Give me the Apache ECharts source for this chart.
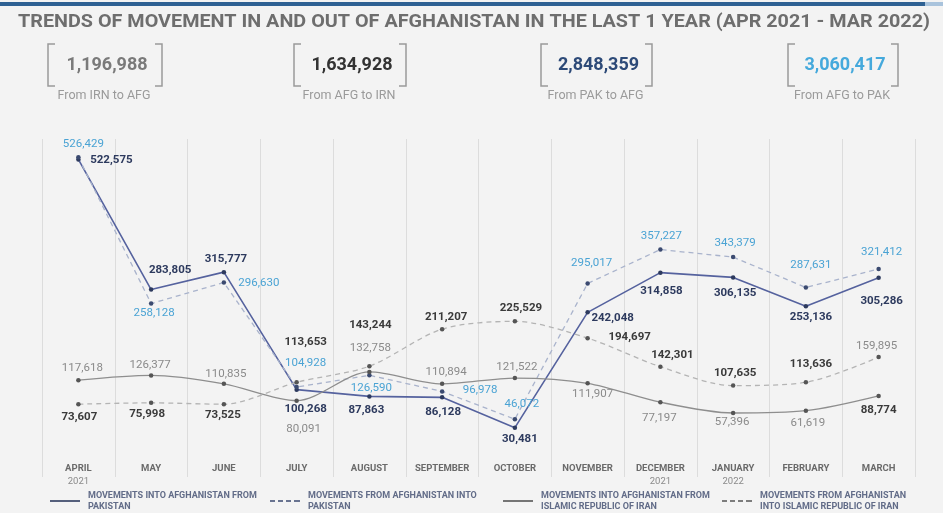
<!DOCTYPE html>
<html>
<head>
<meta charset="utf-8">
<script src="https://cdn.jsdelivr.net/npm/echarts@6/dist/echarts.min.js"></script>
<style>
html,body{margin:0;padding:0;background:#f3f3f3;}
#chart{width:943px;height:513px;}
</style>
</head>
<body>
<div id="chart"></div>
<script>
// ---------- DATA ----------
const months = ['APRIL','MAY','JUNE','JULY','AUGUST','SEPTEMBER','OCTOBER','NOVEMBER','DECEMBER','JANUARY','FEBRUARY','MARCH'];
const years = ['2021','','','','','','','','2021','2022','',''];
const intoAfgFromPak = [522575,283805,315777,100268,87863,86128,30481,242048,314858,306135,253136,305286];
const fromAfgToPak = [526429,258128,296630,104928,126590,96978,46072,295017,357227,343379,287631,321412];
const intoAfgFromIrn = [117618,126377,110835,80091,132758,110894,121522,111907,77197,57396,61619,88774];
const fromAfgToIrn = [73607,75998,73525,113653,143244,211207,225529,194697,142301,107635,113636,159895];
const totals = [1196988,1634928,2848359,3060417];
const totalLabels = ['From IRN to AFG','From AFG to IRN','From PAK to AFG','From AFG to PAK'];
const seriesNames = ['MOVEMENTS INTO AFGHANISTAN FROM PAKISTAN','MOVEMENTS FROM AFGHANISTAN INTO PAKISTAN','MOVEMENTS INTO AFGHANISTAN FROM ISLAMIC REPUBLIC OF IRAN','MOVEMENTS FROM AFGHANISTAN INTO ISLAMIC REPUBLIC OF IRAN'];
const legendText = ['MOVEMENTS INTO AFGHANISTAN FROM\nPAKISTAN','MOVEMENTS FROM AFGHANISTAN INTO\nPAKISTAN','MOVEMENTS INTO AFGHANISTAN FROM\nISLAMIC REPUBLIC OF IRAN','MOVEMENTS FROM AFGHANISTAN\nINTO ISLAMIC REPUBLIC OF IRAN'];
const title = 'TRENDS OF MOVEMENT IN AND OUT OF AFGHANISTAN IN THE LAST 1 YEAR (APR 2021 - MAR 2022)';

// ---------- LABEL PLACEMENT (styling) ----------
const off1 = [[33,1],[19,-19],[2,-13],[9,19],[-3,14],[1,15],[5,11],[25,6],[1,18],[2,16],[5,11],[3,23]];
const off2 = [[5,-13],[3,10],[35,1],[9,-24],[2,13],[38,-1],[7,-15],[4,-20],[1,-13],[2,-14],[5,-22],[3,-17]];
const off3 = [[4,-12],[-1,-10],[2,-10],[7,28],[1,-24],[4,-12],[2,-11],[5,11],[-1,16],[-1,9],[2,12],[0,14]];
const off4 = [[1,13],[-4,11],[-1,11],[9,-40],[1,-41],[4,-12],[6,-13],[42,-1],[12,-12],[2,-12],[5,-18],[-2,-11]];

const FONT = 'Roboto, "Noto Sans", sans-serif';
const fmt = v => Number(v).toLocaleString('en-US');

function mkData(vals, offs, overrides) {
  return vals.map((v, i) => {
    const lab = { offset: offs[i] };
    if (overrides && overrides[i]) Object.assign(lab, overrides[i]);
    return { value: v, label: lab };
  });
}

const darkLab = { color: '#3a3a3a', fontWeight: 'bold' };
const grayLab = { color: '#8a8a8a', fontWeight: 'normal' };

function lineSeries(name, vals, offs, lineColor, lineWidth, dashed, smooth, labColor, labWeight, symColor, overrides) {
  return {
    name: name,
    type: 'line',
    data: mkData(vals, offs, overrides),
    smooth: smooth,
    symbol: 'circle',
    symbolSize: 4.5,
    showAllSymbol: true,
    lineStyle: { color: lineColor, width: lineWidth, type: dashed ? [5, 4] : 'solid' },
    itemStyle: { color: symColor },
    label: {
      show: true,
      position: 'inside',
      align: 'center',
      verticalAlign: 'middle',
      fontFamily: FONT,
      fontSize: 11.5,
      color: labColor,
      fontWeight: labWeight,
      formatter: p => fmt(p.value)
    },
    emphasis: { disabled: true },
    animation: false
  };
}

// ---------- GRAPHICS (header, kpi boxes) ----------
const cvs = document.createElement('canvas').getContext('2d');
cvs.font = 'bold 18px Roboto';
const titleW = cvs.measureText(title).width;
const titleScale = 912 / titleW;

const boxes = [[48,162],[294,406],[541,652],[788,898]];
const valColors = ['#7a7a7a','#333333','#2d4a78','#45a9dc'];
const graphics = [
  { type: 'rect', left: 0, top: 2, shape: { width: 925, height: 4 }, style: { fill: '#2e6193' } },
  { type: 'rect', left: 925, top: 2, shape: { width: 18, height: 4 }, style: { fill: '#a9c3dc' } },
  { type: 'text', x: 18, y: 22, scaleX: titleScale,
    style: { text: title, font: 'bold 18px Roboto', fill: '#6e6e6e', textVerticalAlign: 'middle', verticalAlign: 'middle' } }
];
boxes.forEach((b, i) => {
  const [l, r] = b, t = 44, btm = 86, s = 7;
  graphics.push({ type: 'polyline', shape: { points: [[l + s, t], [l, t], [l, btm], [l + s, btm]] }, style: { stroke: '#9a9a9a', lineWidth: 1.5, fill: null } });
  graphics.push({ type: 'polyline', shape: { points: [[r - s, t], [r, t], [r, btm], [r - s, btm]] }, style: { stroke: '#9a9a9a', lineWidth: 1.5, fill: null } });
  const c = (l + r) / 2;
  graphics.push({ type: 'text', x: c + 2, y: 65,
    style: { text: fmt(totals[i]), font: 'bold 18px Roboto', fill: valColors[i], textAlign: 'center', align: 'center', textVerticalAlign: 'middle', verticalAlign: 'middle' } });
  graphics.push({ type: 'text', x: c - 1, y: 96,
    style: { text: totalLabels[i], font: '12.5px Roboto', fill: '#9a9a9a', textAlign: 'center', align: 'center', textVerticalAlign: 'middle', verticalAlign: 'middle' } });
});

// ---------- LEGENDS ----------
const solidIcon = 'path://M0,0h30v1.6h-30z';
const dashIcon = 'path://M0,0h5v1.6h-5zM8,0h5v1.6h-5zM16,0h5v1.6h-5zM24,0h6v1.6h-6z';
const legendLefts = [50, 270, 503, 722];
const legends = seriesNames.map((n, i) => ({
  data: [{ name: n, icon: (i % 2 === 0) ? solidIcon : dashIcon }],
  left: legendLefts[i],
  top: 490,
  padding: 0,
  itemWidth: 30,
  itemHeight: 1.6,
  selectedMode: false,
  formatter: () => legendText[i],
  textStyle: { fontFamily: FONT, fontSize: 9, fontWeight: 'bold', color: '#626c88', lineHeight: 11, padding: [0, 0, 0, 3] }
}));

const chart = echarts.init(document.getElementById('chart'), null, { renderer: 'canvas' });
chart.setOption({
  backgroundColor: '#f3f3f3',
  animation: false,
  graphic: graphics,
  legend: legends,
  grid: { left: 42, right: 28, top: 139, bottom: 36 },
  xAxis: {
    type: 'category',
    data: months,
    boundaryGap: true,
    axisLine: { show: false },
    axisTick: { show: false },
    splitLine: { show: true, interval: 0, lineStyle: { color: '#dcdcdc', width: 1 } },
    axisLabel: {
      interval: 0,
      margin: -14.5,
      verticalAlign: 'top',
      formatter: (v, i) => '{m|' + v + '}' + (years[i] ? '\n{y|' + years[i] + '}' : '\n{y| }'),
      rich: {
        m: { fontFamily: FONT, fontSize: 9.5, fontWeight: 'bold', color: '#6a6a6a', lineHeight: 13 },
        y: { fontFamily: FONT, fontSize: 9.5, color: '#8a8a8a', lineHeight: 13 }
      }
    }
  },
  yAxis: { type: 'value', min: -60000, max: 560000, show: false, splitLine: { show: false } },
  series: [
    lineSeries(seriesNames[0], intoAfgFromPak, off1, '#55629e', 1.6, false, false, '#2d3a5e', 'bold', '#2d3a5e'),
    lineSeries(seriesNames[1], fromAfgToPak, off2, '#a9b3cc', 1.3, true, false, '#4aa3d4', 'normal', '#3b4a70'),
    lineSeries(seriesNames[2], intoAfgFromIrn, off3, '#8e8e8e', 1.3, false, 0.3, '#8a8a8a', 'normal', '#555555', { 11: darkLab }),
    lineSeries(seriesNames[3], fromAfgToIrn, off4, '#b4b4b4', 1.3, true, 0.3, '#3a3a3a', 'bold', '#555555', { 11: grayLab })
  ]
});
</script>
</body>
</html>
